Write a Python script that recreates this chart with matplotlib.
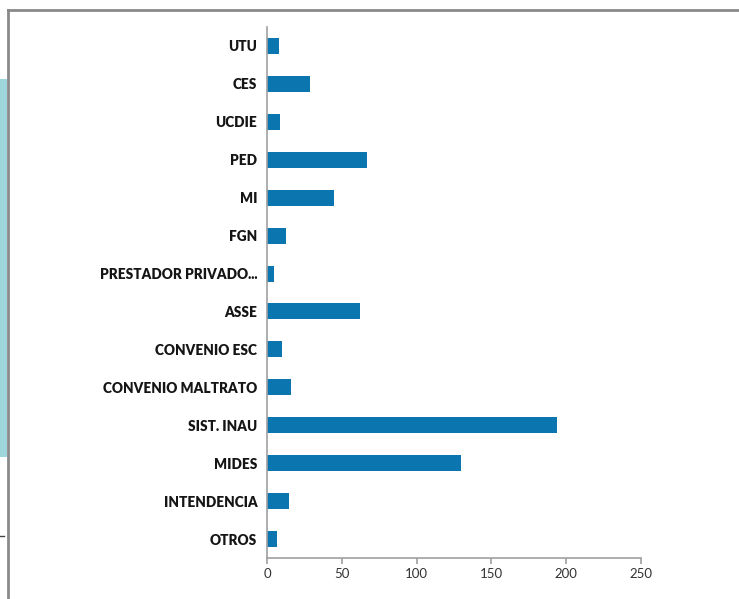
import matplotlib
matplotlib.use("Agg")
import matplotlib.pyplot as plt
from matplotlib.patches import Rectangle
from matplotlib.lines import Line2D

# categories listed top to bottom
categories = ["UTU", "CES", "UCDIE", "PED", "MI", "FGN", "PRESTADOR PRIVADO...",
              "ASSE", "CONVENIO ESC", "CONVENIO MALTRATO", "SIST. INAU", "MIDES",
              "INTENDENCIA", "OTROS"]
values = [8, 29, 9, 67, 45, 13, 5, 62, 10, 16, 194, 130, 15, 7]
xticks = [0, 50, 100, 150, 200, 250]

W, H = 739, 599
fig = plt.figure(figsize=(W / 100, H / 100), dpi=100)
ax = fig.add_axes([267 / W, 1 - 558 / H, (641 - 267) / W, (558 - 27) / H])

# reversed so the first category sits on top
pos = list(range(len(categories)))[::-1]
ax.barh(pos, values, height=0.42, color="#0b75b0")
ax.set_ylim(-0.5, len(categories) - 0.5)
ax.set_xlim(0, 250)
ax.set_xticks(xticks)
ax.set_yticks(pos)
ax.set_yticklabels(categories, fontfamily="Lato", fontweight="heavy",
                   fontsize=9.8, color="#151515")
for lbl in ax.get_xticklabels():
    lbl.set_fontfamily("Lato")
    lbl.set_fontsize(9.5)
    lbl.set_color("#333333")

for s in ["top", "right"]:
    ax.spines[s].set_visible(False)
for s in ["left", "bottom"]:
    ax.spines[s].set_color("#a0a0a0")
    ax.spines[s].set_linewidth(1.2)
ax.tick_params(axis="y", length=0, pad=7)
ax.tick_params(axis="x", length=4, color="#a0a0a0", width=1.2, pad=3)

# page decorations: frame, teal stripe, small dash
fig.add_artist(Line2D([8 / W, 8 / W], [0, 1 - 10 / H], color="#8a8a8a", lw=2,
                      transform=fig.transFigure))
fig.add_artist(Line2D([8 / W, 1], [1 - 10 / H, 1 - 10 / H], color="#8a8a8a", lw=2,
                      transform=fig.transFigure))
fig.add_artist(Rectangle((0, 1 - 457 / H), 7 / W, (457 - 79) / H,
                         transform=fig.transFigure, color="#9fd6dc", lw=0))
fig.add_artist(Line2D([0, 4 / W], [1 - 536 / H, 1 - 536 / H], color="#444444", lw=1,
                      transform=fig.transFigure))

fig.savefig("out.png", dpi=100)
